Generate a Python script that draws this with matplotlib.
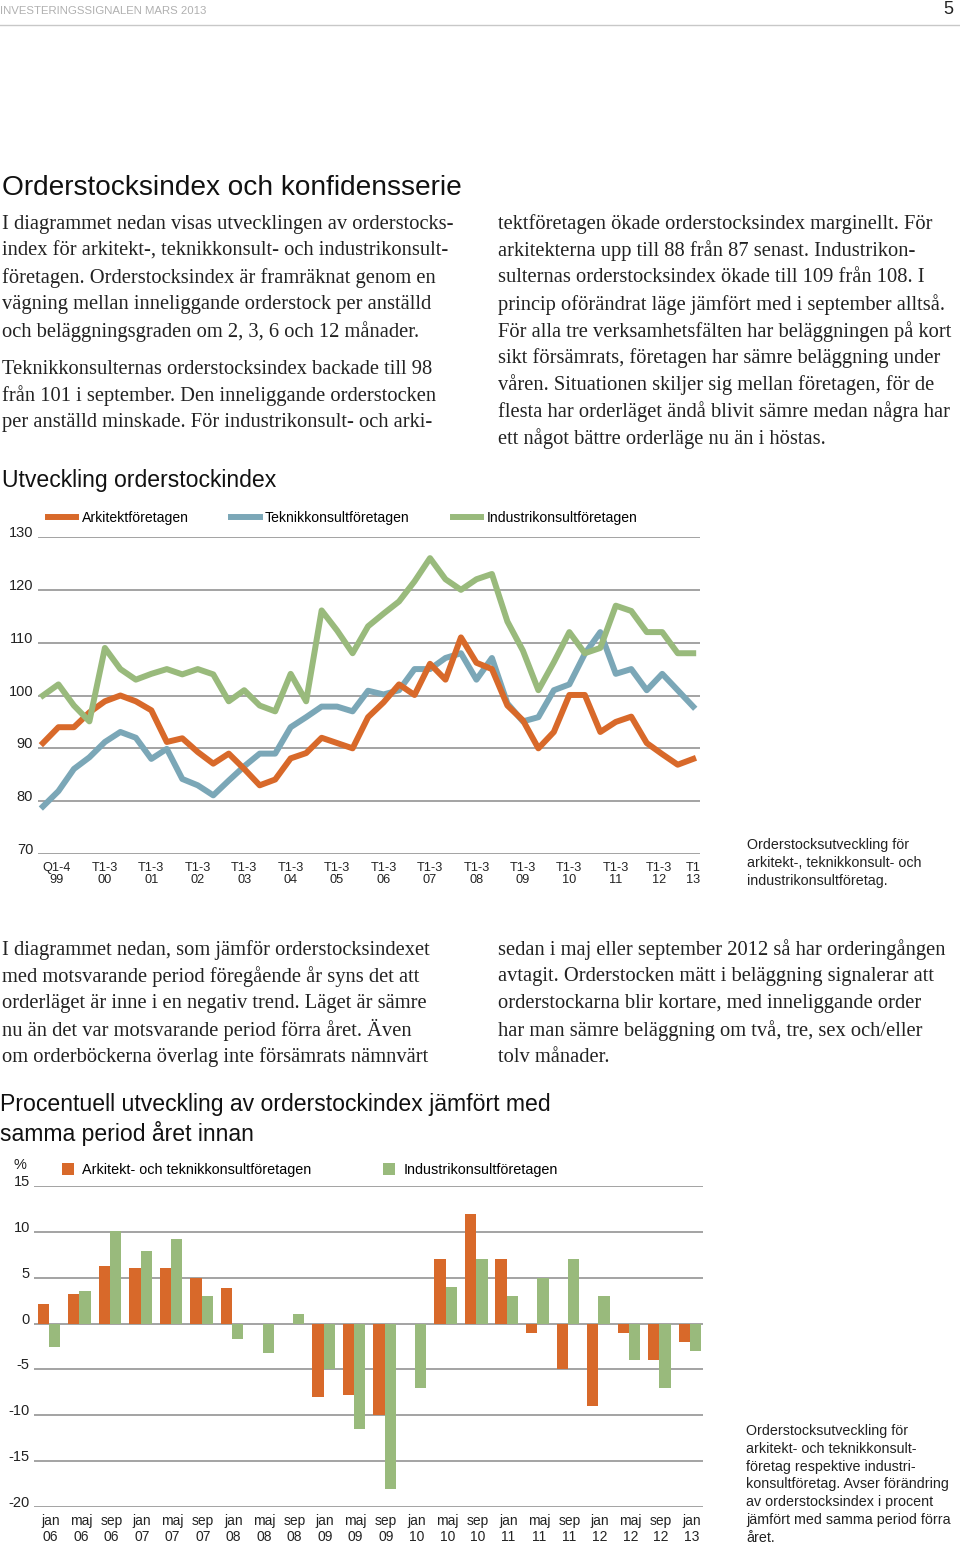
import matplotlib
matplotlib.use("Agg")
import matplotlib.pyplot as plt
import numpy as np

W, H = 960, 1547

ORANGE = "#D8692A"
BLUE = "#7BA7B7"
GREEN = "#99BA7C"
GRID = "#9c9c9c"
INK = "#222222"

SANS = ["Liberation Sans", "DejaVu Sans"]
SERIF = ["Liberation Serif", "DejaVu Serif"]

plt.rcParams["axes.unicode_minus"] = False

# Utveckling orderstockindex, Q1 1999 .. T1 2013
arkitekt = [91, 94, 94, 96.8, 98.9, 100, 98.9, 97.2, 91.2, 91.9, 89.3, 87.1, 89, 86.1,
            83, 84.1, 88.1, 89.1, 92, 91, 90, 95.9, 98.7, 102.1, 100.1, 106, 103, 111,
            106.2, 105, 98.1, 95.3, 90, 93.1, 100.1, 100.1, 93.1, 95, 96, 91, 88.9, 86.9, 88]
teknik = [79, 81.9, 86.1, 88.3, 91.2, 93.1, 92, 88, 89.9, 84.2, 83, 81.1, 83.9, 86.6,
          89, 89, 94, 95.9, 97.9, 97.9, 97, 100.9, 100.2, 101, 105, 105, 107.1, 108,
          103, 107.1, 98.5, 95.1, 95.9, 101, 102.1, 107.9, 112, 104.1, 105, 101, 104.1, 101, 97.9]
industri = [100, 102.1, 98.1, 95.1, 109, 105, 103, 104.1, 105, 104, 105, 104, 98.9, 101,
            98.1, 97, 104.1, 98.9, 116.1, 112.3, 108, 113.1, 115.5, 117.8, 121.6, 126, 122,
            120, 122, 123, 114, 108.5, 101, 106.3, 112, 108, 109, 117, 116, 112, 112, 108, 108]
line_ticks = ["Q1-4\n99", "T1-3\n00", "T1-3\n01", "T1-3\n02", "T1-3\n03", "T1-3\n04",
              "T1-3\n05", "T1-3\n06", "T1-3\n07", "T1-3\n08", "T1-3\n09", "T1-3\n10",
              "T1-3\n11", "T1-3\n12", "T1\n13"]

# Procentuell utveckling jämfört med samma period året innan
periods = ["jan\n06", "maj\n06", "sep\n06", "jan\n07", "maj\n07", "sep\n07", "jan\n08",
           "maj\n08", "sep\n08", "jan\n09", "maj\n09", "sep\n09", "jan\n10", "maj\n10",
           "sep\n10", "jan\n11", "maj\n11", "sep\n11", "jan\n12", "maj\n12", "sep\n12", "jan\n13"]
pct_ark_tek = [2.1, 3.2, 6.3, 6.1, 6.1, 5.0, 3.85, 0, 0, -8.0, -7.8, -10.0, 0, 7.0,
               12.0, 7.0, -1.0, -5.0, -9.0, -1.0, -4.0, -2.0]
pct_industri = [-2.6, 3.5, 10.1, 7.9, 9.2, 3.0, -1.7, -3.2, 1.0, -5.0, -11.5, -18.0, -7.0,
                4.0, 7.0, 3.0, 5.0, 7.0, 3.0, -4.0, -7.0, -3.0]

text_top_left = [
    "I diagrammet nedan visas utvecklingen av orderstocks-",
    "index för arkitekt-, teknikkonsult- och industrikonsult-",
    "företagen. Orderstocksindex är framräknat genom en",
    "vägning mellan inneliggande orderstock per anställd",
    "och beläggningsgraden om 2, 3, 6 och 12 månader.",
]
text_top_left2 = [
    "Teknikkonsulternas orderstocksindex backade till 98",
    "från 101 i september. Den inneliggande orderstocken",
    "per anställd minskade. För industrikonsult- och arki-",
]
text_top_right = [
    "tektföretagen ökade orderstocksindex marginellt. För",
    "arkitekterna upp till 88 från 87 senast. Industrikon-",
    "sulternas orderstocksindex ökade till 109 från 108. I",
    "princip oförändrat läge jämfört med i september alltså.",
    "För alla tre verksamhetsfälten har beläggningen på kort",
    "sikt försämrats, företagen har sämre beläggning under",
    "våren. Situationen skiljer sig mellan företagen, för de",
    "flesta har orderläget ändå blivit sämre medan några har",
    "ett något bättre orderläge nu än i höstas.",
]
text_mid_left = [
    "I diagrammet nedan, som jämför orderstocksindexet",
    "med motsvarande period föregående år syns det att",
    "orderläget är inne i en negativ trend. Läget är sämre",
    "nu än det var motsvarande period förra året. Även",
    "om orderböckerna överlag inte försämrats nämnvärt",
]
text_mid_right = [
    "sedan i maj eller september 2012 så har orderingången",
    "avtagit. Orderstocken mätt i beläggning signalerar att",
    "orderstockarna blir kortare, med inneliggande order",
    "har man sämre beläggning om två, tre, sex och/eller",
    "tolv månader.",
]
note1 = ["Orderstocksutveckling för", "arkitekt-, teknikkonsult- och", "industrikonsultföretag."]
note2 = ["Orderstocksutveckling för", "arkitekt- och teknikkonsult-", "företag respektive industri-",
         "konsultföretag. Avser förändring", "av orderstocksindex i procent",
         "jämfört med samma period förra", "året."]


def fx(x):
    return x / W


def fy(y):
    return 1 - y / H


def block(lines, x, y0, step, **kw):
    for i, line in enumerate(lines):
        fig.text(fx(x), fy(y0 + i * step), line, va="center", ha="left", **kw)


fig = plt.figure(figsize=(W / 100, H / 100), dpi=100)

# page header
fig.text(fx(0), fy(11), "INVESTERINGSSIGNALEN MARS 2013", fontsize=8.2, color="#b0b0b0",
         family=SANS, va="center")
fig.text(fx(953), fy(10), "5", fontsize=13, color=INK, family=SANS, va="center", ha="right")
fig.add_artist(plt.Line2D([0, 1], [fy(25), fy(25)], color="#c8c8c8", lw=1))

fig.text(fx(2), fy(188), "Orderstocksindex och konfidensserie", fontsize=20.2, color="#111111",
         family=SANS, va="center")
body = dict(fontsize=14.8, color=INK, family=SERIF)
block(text_top_left, 2, 224, 26.8, **body)
block(text_top_left2, 2, 369, 26.8, **body)
block(text_top_right, 498, 224, 26.8, **body)
block(text_mid_left, 2, 950, 26.8, **body)
block(text_mid_right, 498, 950, 26.8, **body)

head = dict(fontsize=16.6, color="#111111", family=SANS, va="center")
fig.text(fx(2), fy(480), "Utveckling orderstockindex", **head)
fig.text(fx(0), fy(1104), "Procentuell utveckling av orderstockindex jämfört med", **head)
fig.text(fx(0), fy(1133), "samma period året innan", **head)

note = dict(fontsize=10.3, color=INK, family=SANS)
block(note1, 747, 845, 17.8, **note)
block(note2, 746, 1431, 17.8, **note)

# line chart
ax1 = fig.add_axes([fx(38), fy(854), 662 / W, 317 / H])
x = np.arange(len(arkitekt))
l_tek, = ax1.plot(x, teknik, color=BLUE, lw=4.3, label="Teknikkonsultföretagen", zorder=3)
l_ark, = ax1.plot(x, arkitekt, color=ORANGE, lw=4.3, label="Arkitektföretagen", zorder=4)
l_ind, = ax1.plot(x, industri, color=GREEN, lw=4.3, label="Industrikonsultföretagen", zorder=5)
ax1.set_xlim(-0.32, 42.44)
ax1.set_ylim(70, 130)
ax1.set_yticks(range(70, 131, 10))
ax1.set_xticks([0.9, 4, 7, 10, 13, 16, 19, 22, 25, 28, 31, 34, 37, 39.8, 42], line_ticks)
ax1.yaxis.grid(True, color=GRID, lw=1.3)
ax1.tick_params(axis="y", length=0, pad=3.5, labelsize=10.5, labelcolor=INK)
ax1.tick_params(axis="x", length=0, pad=6, labelsize=9.2, labelcolor=INK)
for lbl in ax1.get_yticklabels():
    lbl.set_va("baseline")
    lbl.set_family(SANS)
for lbl in ax1.get_xticklabels():
    lbl.set_linespacing(0.95)
    lbl.set_family(SANS)
for s in ax1.spines.values():
    s.set_visible(False)
ax1.legend(handles=[l_ark, l_tek, l_ind], loc="center left", ncol=3, frameon=False,
           bbox_to_anchor=(fx(48), fy(518)), bbox_transform=fig.transFigure,
           borderpad=0, borderaxespad=0, handlelength=2.0, handletextpad=0.4,
           columnspacing=3.05, prop={"family": SANS, "size": 10.1})

# bar chart
ax2 = fig.add_axes([fx(34), fy(1507), 669 / W, 321 / H])
xb = np.arange(len(periods))
w = 0.37
ax2.bar(xb - w / 2, pct_ark_tek, w, color=ORANGE, label="Arkitekt- och teknikkonsultföretagen",
        zorder=3)
ax2.bar(xb + w / 2, pct_industri, w, color=GREEN, label="Industrikonsultföretagen", zorder=3)
ax2.set_xlim(-0.49, 21.43)
ax2.set_ylim(-20, 15)
ax2.set_yticks(range(-20, 16, 5))
ax2.set_xticks(xb + 0.05, periods)
ax2.yaxis.grid(True, color=GRID, lw=1.3)
ax2.set_axisbelow(True)
ax2.tick_params(axis="y", length=0, pad=3, labelsize=10.5, labelcolor=INK)
ax2.tick_params(axis="x", length=0, pad=5, labelsize=10, labelcolor=INK)
for lbl in ax2.get_yticklabels():
    lbl.set_va("baseline")
    lbl.set_family(SANS)
for lbl in ax2.get_xticklabels():
    lbl.set_family(SANS)
for s in ax2.spines.values():
    s.set_visible(False)
fig.text(fx(13), fy(1165), "%", fontsize=10.5, color=INK, family=SANS, va="center")
ax2.legend(loc="center left", ncol=2, frameon=False,
           bbox_to_anchor=(fx(62), fy(1170)), bbox_transform=fig.transFigure,
           borderpad=0, borderaxespad=0, handlelength=0.8, handleheight=0.8,
           handletextpad=0.6, columnspacing=4.95, prop={"family": SANS, "size": 10.4})

fig.savefig("out.png", dpi=100, facecolor="white")
